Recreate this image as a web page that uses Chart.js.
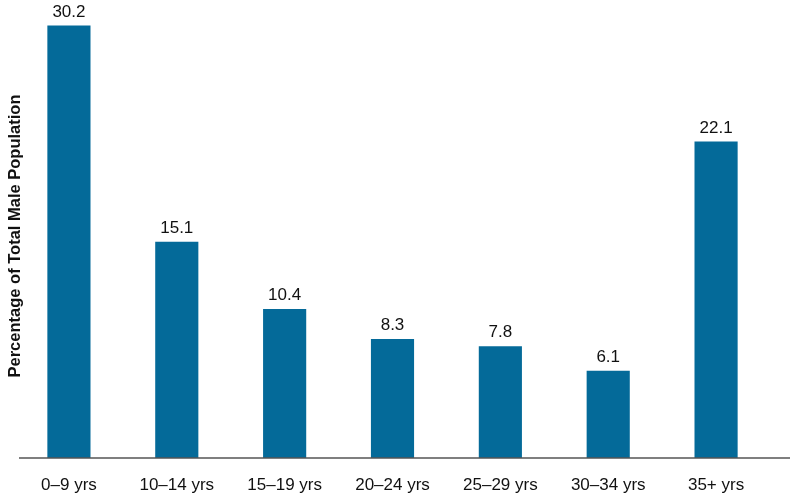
<!DOCTYPE html>
<html>
<head>
  <style>
    html, body { margin: 0; padding: 0; background: #fff; }
    #wrap { width: 795px; height: 496px; }
  </style>
</head>
<body>
  <div id="wrap"><canvas id="chart" width="795" height="496"></canvas></div>

  <script src="https://cdn.jsdelivr.net/npm/chart.js"></script>
  <script>
    const categories = ["0\u20139 yrs", "10\u201314 yrs", "15\u201319 yrs", "20\u201324 yrs", "25\u201329 yrs", "30\u201334 yrs", "35+ yrs"];
    const percentages = [30.2, 15.1, 10.4, 8.3, 7.8, 6.1, 22.1];
    const yTitle = "Percentage of Total Male Population";

    const barColor = "#046a99";
    const fontFamily = "'Liberation Sans', Arial, sans-serif";

    // value labels above each bar
    const valueLabels = {
      id: "valueLabels",
      afterDatasetsDraw(chart) {
        const ctx = chart.ctx;
        const meta = chart.getDatasetMeta(0);
        ctx.save();
        ctx.font = "17px " + fontFamily;
        ctx.fillStyle = "#111";
        ctx.textAlign = "center";
        ctx.textBaseline = "bottom";
        meta.data.forEach((bar, i) => {
          ctx.fillText(percentages[i].toFixed(1), bar.x, bar.y - 5);
        });
        ctx.restore();
      }
    };

    // baseline runs a bit past the plot on the right
    const baseLine = {
      id: "baseLine",
      afterDatasetsDraw(chart) {
        const ctx = chart.ctx;
        const y = chart.scales.y.getPixelForValue(0);
        ctx.save();
        ctx.strokeStyle = "#555";
        ctx.lineWidth = 1.5;
        ctx.beginPath();
        ctx.moveTo(chart.chartArea.left + 4, y);
        ctx.lineTo(chart.chartArea.right + 20, y);
        ctx.stroke();
        ctx.restore();
      }
    };

    new Chart(document.getElementById("chart"), {
      type: "bar",
      data: {
        labels: categories,
        datasets: [{
          data: percentages,
          backgroundColor: barColor,
          borderWidth: 0,
          categoryPercentage: 1,
          barPercentage: 0.4
        }]
      },
      options: {
        responsive: false,
        animation: false,
        layout: { padding: { top: 14, right: 25, bottom: 0, left: 0 } },
        plugins: {
          legend: { display: false },
          tooltip: { enabled: false }
        },
        scales: {
          x: {
            grid: { display: false },
            border: { display: false },
            ticks: {
              color: "#111",
              padding: 9,
              font: { family: fontFamily, size: 17 }
            },
            afterFit(scale) { scale.height = 38; }
          },
          y: {
            min: 0,
            max: 31,
            grid: { display: false },
            border: { display: false },
            ticks: { display: false },
            title: {
              display: true,
              text: yTitle,
              color: "#111",
              padding: { top: 6, bottom: 0 },
              font: { family: fontFamily, size: 16.5, weight: "bold", lineHeight: 1.2 }
            },
            afterFit(scale) { scale.width = 15; }
          }
        }
      },
      plugins: [valueLabels, baseLine]
    });
  </script>
</body>
</html>
